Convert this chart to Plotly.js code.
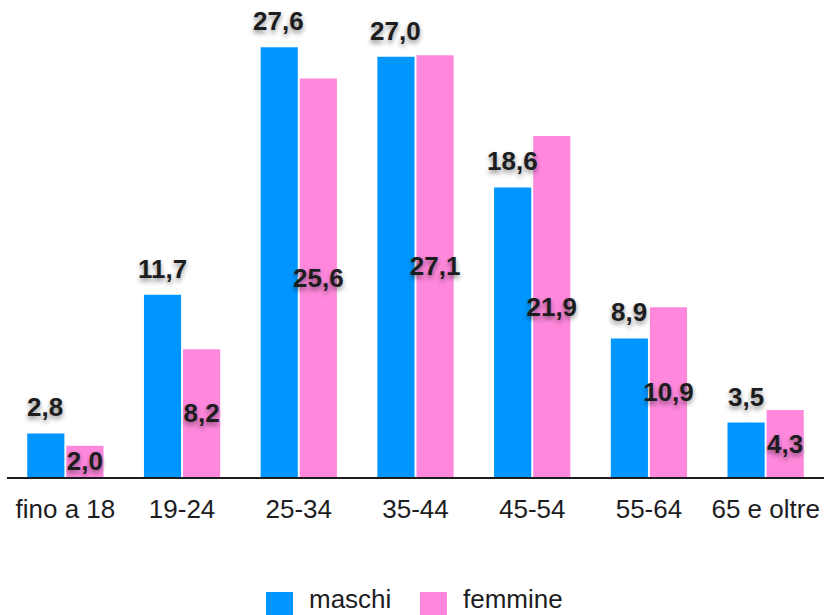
<!DOCTYPE html>
<html>
<head>
<meta charset="utf-8">
<script src="https://cdn.plot.ly/plotly-3.0.1.min.js"></script>
<style>html,body{margin:0;padding:0;background:#fff;}#chart{width:824px;height:615px;}</style>
</head>
<body>
<div id="chart"></div>
<script>
const categories = ["fino a 18", "19-24", "25-34", "35-44", "45-54", "55-64", "65 e oltre"];
const seriesNames = ["maschi", "femmine"];
const maschi = [2.8, 11.7, 27.6, 27.0, 18.6, 8.9, 3.5];
const femmine = [2.0, 8.2, 25.6, 27.1, 21.9, 10.9, 4.3];

const BLUE = "#0096ff";
const PINK = "#ff88dd";
const FONT = "Liberation Sans, Arial, sans-serif";
const fmt = v => v.toFixed(1).replace(".", ",");
const shadow = "0px 3px 5px rgba(0,0,0,0.45)";
const labelFont = {family: FONT, size: 26, color: "#1d1d1f", weight: "bold", shadow: shadow};

const traces = [
  {type: "bar", name: seriesNames[0], x: categories, y: maschi, marker: {color: BLUE},
   hoverinfo: "skip", showlegend: false},
  {type: "bar", name: seriesNames[1], x: categories, y: femmine, marker: {color: PINK},
   text: femmine.map(fmt), textposition: "inside", insidetextanchor: "middle",
   constraintext: "none", textangle: 0, textfont: labelFont, cliponaxis: false,
   hoverinfo: "skip", showlegend: false}
];

const annotations = categories.map((c, i) => ({
  x: c, y: maschi[i], xref: "x", yref: "y", text: fmt(maschi[i]),
  showarrow: false, xanchor: "center", yanchor: "bottom", xshift: -20, yshift: 9,
  font: labelFont
}));

// legend drawn manually
const legendItems = [
  {name: seriesNames[0], color: BLUE, x0: 266, tx: 308},
  {name: seriesNames[1], color: PINK, x0: 420, tx: 462}
];
const shapes = [];
legendItems.forEach(it => {
  shapes.push({type: "rect", xref: "paper", yref: "paper", layer: "above",
    x0: (it.x0 - 7) / 817, x1: (it.x0 + 27 - 7) / 817,
    y0: -(615 - 477) / 467, y1: -(592 - 477) / 467,
    fillcolor: it.color, line: {width: 0}});
  annotations.push({xref: "paper", yref: "paper", x: (it.tx - 7) / 817, y: -(615 - 477) / 467,
    text: it.name, showarrow: false, xanchor: "left", yanchor: "bottom", borderpad: 0,
    font: {family: FONT, size: 26, color: "#1d1d1f"}});
});

const layout = {
  width: 824, height: 615,
  margin: {l: 7, r: 0, t: 10, b: 138},
  paper_bgcolor: "#fff", plot_bgcolor: "#fff",
  barmode: "group", bargap: 0.33, bargroupgap: 0.05,
  showlegend: false,
  xaxis: {type: "category", showgrid: false, zeroline: false, showline: true,
    linecolor: "#1d1d1f", linewidth: 2, ticks: "", ticklabelstandoff: 8,
    tickfont: {family: FONT, size: 26, color: "#1d1d1f"}, fixedrange: true},
  yaxis: {range: [0, 30], visible: false, showgrid: false, zeroline: false, fixedrange: true},
  annotations: annotations,
  shapes: shapes
};

Plotly.newPlot("chart", traces, layout, {displayModeBar: false, staticPlot: true});
</script>
</body>
</html>
